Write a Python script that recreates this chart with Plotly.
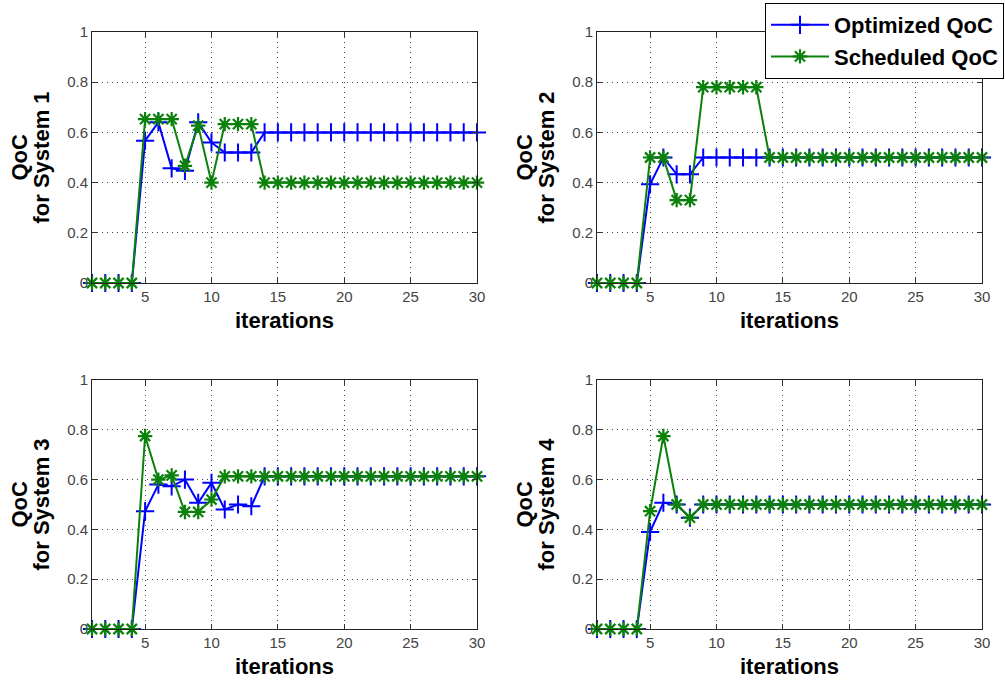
import plotly.graph_objects as go
from plotly.subplots import make_subplots

iterations = list(range(1, 31))

opt_sys1 = [0, 0, 0, 0, 0.567, 0.64, 0.457, 0.447, 0.64, 0.56, 0.52, 0.52, 0.52] + [0.6] * 17
sch_sys1 = [0, 0, 0, 0, 0.653, 0.653, 0.653, 0.467, 0.627, 0.4, 0.633, 0.633, 0.633] + [0.4] * 17

opt_sys2 = [0, 0, 0, 0, 0.393, 0.5, 0.433, 0.433] + [0.5] * 22
sch_sys2 = [0, 0, 0, 0, 0.5, 0.5, 0.33, 0.33, 0.78, 0.78, 0.78, 0.78, 0.78] + [0.5] * 17

opt_sys3 = [0, 0, 0, 0, 0.473, 0.58, 0.573, 0.6, 0.507, 0.587, 0.48, 0.5, 0.493] + [0.613] * 17
sch_sys3 = [0, 0, 0, 0, 0.775, 0.6, 0.617, 0.47, 0.47, 0.52] + [0.613] * 20

opt_sys4 = [0, 0, 0, 0, 0.39, 0.507, 0.5, 0.447] + [0.5] * 22
sch_sys4 = [0, 0, 0, 0, 0.473, 0.775, 0.5, 0.447] + [0.5] * 22

systems = [(opt_sys1, sch_sys1), (opt_sys2, sch_sys2), (opt_sys3, sch_sys3), (opt_sys4, sch_sys4)]
system_names = ["System 1", "System 2", "System 3", "System 4"]
x_ticks = [5, 10, 15, 20, 25, 30]
y_ticks = [0, 0.2, 0.4, 0.6, 0.8, 1]
y_tick_text = ["0", "0.2", "0.4", "0.6", "0.8", "1"]

BLUE = "#0000ff"
GREEN = "#0b800b"
W, H = 1005, 683
FONT = "Liberation Sans"

fig = make_subplots(rows=2, cols=2)
positions = [(1, 1), (1, 2), (2, 1), (2, 2)]
for i, ((opt, sch), (r, c)) in enumerate(zip(systems, positions)):
    fig.add_trace(go.Scatter(
        x=iterations, y=opt, mode="lines+markers", name="Optimized QoC",
        line=dict(color=BLUE, width=2), cliponaxis=False,
        marker=dict(symbol="cross-thin-open", size=13, line=dict(color=BLUE, width=2)),
        showlegend=(i == 0), legendrank=1), row=r, col=c)
    fig.add_trace(go.Scatter(
        x=iterations, y=sch, mode="lines+markers", name="Scheduled QoC",
        line=dict(color=GREEN, width=2), cliponaxis=False,
        marker=dict(symbol="asterisk-open", size=12, line=dict(color=GREEN, width=2.2)),
        showlegend=(i == 0), legendrank=2), row=r, col=c)

# pixel layout of the axes boxes
xpix = {1: (92, 477), 2: (597, 982)}
ypix = {1: (32, 283), 2: (380, 629)}
xdoms = {c: [a / W, b / W] for c, (a, b) in xpix.items()}
ydoms = {r: [1 - b / H, 1 - a / H] for r, (a, b) in ypix.items()}

annotations = []
for i, (r, c) in enumerate(positions):
    fig.update_xaxes(
        row=r, col=c, domain=xdoms[c], range=[1, 30], tickvals=x_ticks,
        ticks="inside", ticklen=5, tickcolor="#333", showline=True, linecolor="#222",
        linewidth=1, mirror="ticks", showgrid=True, gridcolor="#444", griddash="1px,4px",
        gridwidth=1, zeroline=False, automargin=False,
        tickfont=dict(size=15, color="#444", family=FONT))
    fig.update_yaxes(
        row=r, col=c, domain=ydoms[r], range=[0, 1], tickvals=y_ticks, ticktext=y_tick_text,
        ticks="inside", ticklen=5, tickcolor="#333", showline=True, linecolor="#222",
        linewidth=1, mirror="ticks", showgrid=True, gridcolor="#444", griddash="1px,4px",
        gridwidth=1, zeroline=False, automargin=False,
        tickfont=dict(size=15, color="#444", family=FONT))
    left = xpix[c][0]
    ycen = 1 - (ypix[r][0] + ypix[r][1]) / 2 / H
    xcen = (xpix[c][0] + xpix[c][1]) / 2 / W
    annotations.append(dict(text="<b>QoC</b>", x=(left - 73) / W, y=ycen, xref="paper", yref="paper",
                            xanchor="center", yanchor="middle", textangle=-90, showarrow=False,
                            font=dict(size=22, family=FONT, color="black")))
    annotations.append(dict(text="<b>for %s</b>" % system_names[i], x=(left - 51) / W, y=ycen,
                            xref="paper", yref="paper", xanchor="center", yanchor="middle",
                            textangle=-90, showarrow=False,
                            font=dict(size=22, family=FONT, color="black")))
    annotations.append(dict(text="<b>iterations</b>", x=xcen, y=1 - (ypix[r][1] + 37) / H,
                            xref="paper", yref="paper", xanchor="center", yanchor="middle",
                            showarrow=False, font=dict(size=22, family=FONT, color="black")))

fig.update_layout(
    width=W, height=H, margin=dict(l=0, r=0, t=0, b=0, autoexpand=False),
    paper_bgcolor="white", plot_bgcolor="white",
    font=dict(family=FONT, color="black"),
    annotations=annotations,
    legend=dict(x=765 / W, y=1 - 3 / H, xanchor="left", yanchor="top",
                xref="container", yref="container",
                bgcolor="white", bordercolor="black", borderwidth=1,
                font=dict(size=22, family=FONT, color="black", weight="bold"),
                tracegroupgap=0, itemwidth=58),
)

fig.write_html("out.html")
